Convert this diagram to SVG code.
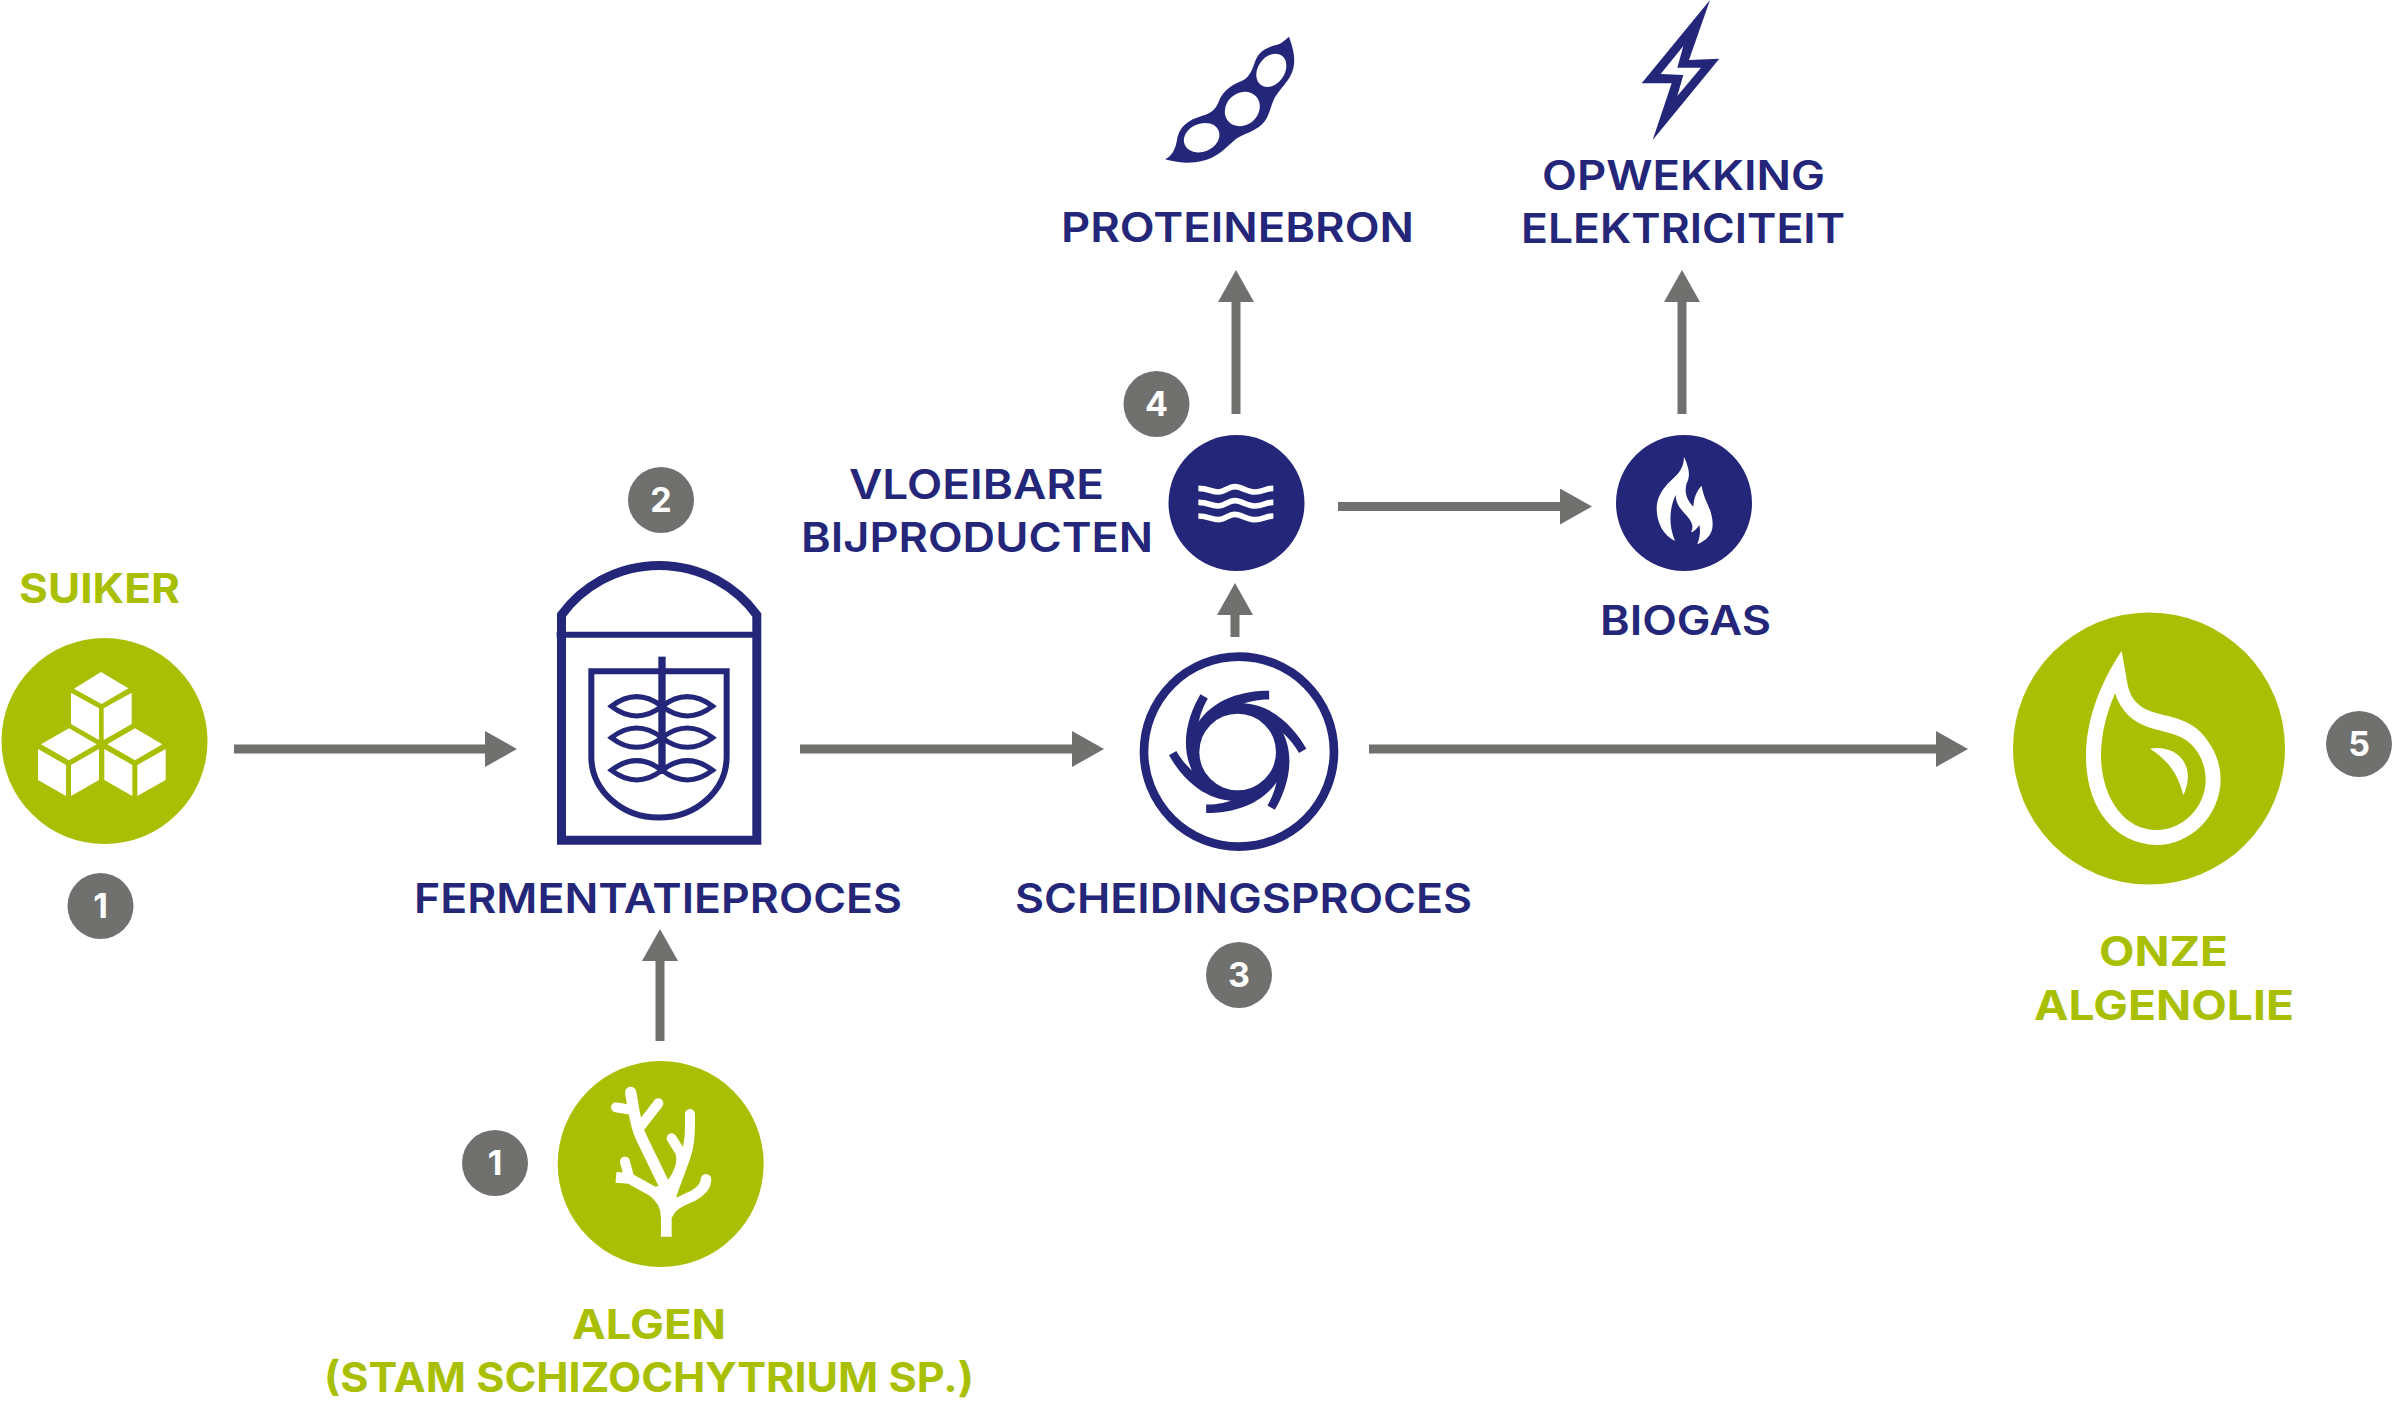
<svg xmlns="http://www.w3.org/2000/svg" width="2394" height="1404" viewBox="0 0 2394 1404">
<style>
.n{fill:#24267a}.g{fill:#a9bf03}.w{fill:#fff}.b{fill:#70706e}
.cl{stroke:#70706e;stroke-width:9;fill:none;marker-end:url(#ah)}
text{font-family:Inter,"Liberation Sans",sans-serif;font-size:41px;text-anchor:start}
.tn{fill:#24267a;font-weight:600}.tg{fill:#a9bf03;font-weight:700}
.bt{fill:#fff;font-weight:700;font-size:34px;text-anchor:middle}
.sn{fill:none;stroke:#24267a}
</style>
<defs>
<marker id="ah" markerUnits="userSpaceOnUse" markerWidth="32" markerHeight="36" refX="0" refY="18" orient="auto"><path d="M0 0L32 18L0 36Z" fill="#70706e"/></marker>
<path id="blade" class="n" d="M206 -10C172 -70 105 -147 5 -147C-30 -147 -70 -130 -90 -100L0 -115L100 -60L122 -68C145 -50 165 -30 184 3Z"/>
<path id="wave" d="M25 0C55 0 65 11 85 11C105 11 115 -5 135 -5C155 -5 170 11 195 11C220 11 225 0 250 0" fill="none" stroke="#fff" stroke-width="17"/>
</defs>
<g id="connectors">
<line class="cl" x1="234" y1="749" x2="485" y2="749"/>
<line class="cl" x1="800" y1="749" x2="1072" y2="749"/>
<line class="cl" x1="1369" y1="749" x2="1936" y2="749"/>
<line class="cl" x1="660" y1="1041" x2="660" y2="961"/>
<line class="cl" x1="1235" y1="637" x2="1235" y2="615"/>
<line class="cl" x1="1236" y1="414" x2="1236" y2="302"/>
<line class="cl" x1="1682" y1="414" x2="1682" y2="302"/>
<line class="cl" x1="1338" y1="506.5" x2="1560" y2="506.5"/>
</g>
<g id="suiker">
<circle class="g" cx="104.5" cy="741" r="103"/>
<path class="w" transform="translate(0 540) scale(.3333)" d="M303 396L385 445L305 492L222 446ZM213 458L297 505V600L213 552ZM311 505L395 458V552L311 600ZM207 565L290 613L207 661L123 613ZM114 627L198 675V768L114 720ZM213 675L297 627V720L213 768ZM405 565L487 613L405 661L322 613ZM313 627L397 675V768L313 720ZM412 675L497 627V720L412 768Z"/>
<text class="tg" x="19" y="603" textLength="161" lengthAdjust="spacingAndGlyphs">SUIKER</text>
</g>
<g id="badge-1a"><circle class="b" cx="100.500" cy="906" r="33"/><text class="bt" x="100.500" y="918">1</text></g>
<g id="fermentatie">
<g transform="translate(520 470) scale(.3333)">
<path class="sn" stroke-width="27" d="M124.5 435V1110.5H710.5V435A363 363 0 0 0 124.5 435Z"/>
<path class="sn" stroke-width="18" d="M110 494H700"/>
<path class="sn" stroke-width="18" d="M214 860V604H620V860A203 183 0 0 1 214 860Z"/>
<path class="sn" stroke-width="22" d="M426 560V905"/>
<path class="sn" stroke-width="15" d="M274 709Q350 651 426 709Q350 767 274 709ZM426 709Q502 651 578 709Q502 767 426 709ZM274 803Q350 745 426 803Q350 861 274 803ZM426 803Q502 745 578 803Q502 861 426 803ZM274 901Q350 843 426 901Q350 959 274 901ZM426 901Q502 843 578 901Q502 959 426 901Z"/>
</g>
<text class="tn" x="414" y="913" textLength="488" lengthAdjust="spacingAndGlyphs">FERMENTATIEPROCES</text>
</g>
<g id="badge-2"><circle class="b" cx="661" cy="500" r="33"/><text class="bt" x="661" y="512">2</text></g>
<g id="scheiding">
<g transform="translate(1110 630) scale(.3333)">
<circle class="sn" cx="387" cy="365" r="285" stroke-width="26"/>
<g transform="translate(383 366)">
<use href="#blade"/>
<use href="#blade" transform="rotate(-60)"/>
<use href="#blade" transform="rotate(-120)"/>
<use href="#blade" transform="rotate(180)"/>
<use href="#blade" transform="rotate(120)"/>
<use href="#blade" transform="rotate(60)"/>
<circle class="sn" r="127" stroke-width="24"/>
<circle class="w" r="115"/>
</g>
</g>
<text class="tn" x="1015" y="913" textLength="457" lengthAdjust="spacingAndGlyphs">SCHEIDINGSPROCES</text>
</g>
<g id="badge-3"><circle class="b" cx="1239" cy="975" r="33"/><text class="bt" x="1239" y="987">3</text></g>
<g id="vloeibare">
<circle class="n" cx="1236.500" cy="503" r="68"/>
<g transform="translate(1190 470) scale(.3333)">
<use href="#wave" y="55"/><use href="#wave" y="97"/><use href="#wave" y="138"/>
</g>
<text class="tn" x="849" y="499" textLength="255" lengthAdjust="spacingAndGlyphs">VLOEIBARE</text>
<text class="tn" x="801" y="552" textLength="352" lengthAdjust="spacingAndGlyphs">BIJPRODUCTEN</text>
</g>
<g id="badge-4"><circle class="b" cx="1156.500" cy="404" r="33"/><text class="bt" x="1156.500" y="416">4</text></g>
<g id="biogas">
<circle class="n" cx="1684" cy="503" r="68"/>
<path class="w" transform="translate(1640 445) scale(.3333)" d="M132 35C150 75 150 95 140 115C132 140 140 165 160 185C162 155 172 135 185 122C192 170 218 190 218 240C218 270 195 288 172 298C180 275 182 258 178 240C172 250 162 260 153 262C165 240 150 222 132 203C115 185 107 170 107 150C88 190 85 240 105 288C70 270 50 235 50 190C52 140 85 115 110 90C125 75 132 55 132 35Z"/>
<text class="tn" x="1600" y="635" textLength="171" lengthAdjust="spacingAndGlyphs">BIOGAS</text>
</g>
<g id="proteinebron">
<g transform="translate(1130 20) scale(.3333)">
<path class="n" d="M105 418C125 408 135 390 140 365C145 320 175 300 215 288C250 278 260 262 268 240C280 212 305 195 335 183C360 172 368 145 375 125C385 95 410 82 435 76C455 72 465 60 477 50C490 85 497 115 490 145C482 180 455 200 435 232C425 250 420 275 410 295C395 322 365 335 335 347C310 358 295 380 270 398C240 420 205 428 170 428C145 428 125 423 105 418Z"/>
<ellipse class="w" cx="215" cy="353" rx="55" ry="42" transform="rotate(-22 215 353)"/>
<ellipse class="w" cx="337" cy="267" rx="56" ry="48" transform="rotate(-42 337 267)"/>
<ellipse class="w" cx="424" cy="151" rx="54" ry="40" transform="rotate(-55 424 151)"/>
</g>
<text class="tn" x="1061" y="242" textLength="353" lengthAdjust="spacingAndGlyphs">PROTEINEBRON</text>
</g>
<g id="elektriciteit">
<path class="n" transform="translate(1620 0) scale(.3333)" d="M270 0L207 180L298 176L98 420L155 250L65 250Z"/>
<path class="w" transform="translate(1620 0) scale(.3333)" d="M190 138L172 203L243 203L172 288L190 225L122 222Z"/>
<text class="tn" x="1542" y="190" textLength="283" lengthAdjust="spacingAndGlyphs">OPWEKKING</text>
<text class="tn" x="1521" y="243" textLength="324" lengthAdjust="spacingAndGlyphs">ELEKTRICITEIT</text>
</g>
<g id="algenolie">
<circle class="g" cx="2149" cy="748.500" r="136"/>
<path class="w" transform="translate(2000 620) scale(.3333)" fill-rule="evenodd" d="M365 93L383 195C395 250 430 270 480 282C540 296 590 310 625 365C650 400 662 440 662 480C660 590 570 675 470 675C340 672 258 560 258 410C258 300 300 190 365 93ZM345 220C320 280 303 340 303 410C305 530 370 630 470 630C550 630 617 560 617 480C617 420 585 370 540 350C510 337 485 333 450 323C395 307 362 270 345 220ZM450 386C520 375 570 420 563 480C561 497 557 512 550 525C535 465 505 420 450 386Z"/>
<text class="tg" x="2099" y="966" textLength="129" lengthAdjust="spacingAndGlyphs">ONZE</text>
<text class="tg" x="2034" y="1020" textLength="260" lengthAdjust="spacingAndGlyphs">ALGENOLIE</text>
</g>
<g id="badge-5"><circle class="b" cx="2359" cy="744" r="33"/><text class="bt" x="2359" y="756">5</text></g>
<g id="algen">
<circle class="g" cx="660.700" cy="1164" r="103"/>
<g transform="translate(540 1050) scale(.3333)" fill="none" stroke="#fff" stroke-width="30" stroke-linecap="round" stroke-linejoin="round">
<path stroke-linecap="butt" stroke-width="32" d="M379 560V505C379 470 368 450 340 425L268 385L228 382"/>
<path d="M255 335L268 385"/>
<path stroke-width="34" d="M385 430L305 265C285 225 282 180 272 127"/>
<path d="M228 172L278 180M355 160L305 225"/>
<path d="M398 425L435 325C452 280 450 235 450 192"/>
<path d="M395 265L420 305C432 335 415 375 395 400"/>
<path stroke-width="32" d="M385 490C395 465 420 455 460 437C490 420 498 405 498 388"/>
<path class="w" stroke="none" d="M345 410L410 395L410 470L360 470Z"/>
</g>
<text class="tg" x="572" y="1339" textLength="154" lengthAdjust="spacingAndGlyphs">ALGEN</text>
<text class="tg" x="324" y="1392" textLength="650" lengthAdjust="spacingAndGlyphs">(STAM SCHIZOCHYTRIUM SP.)</text>
</g>
<g id="badge-1b"><circle class="b" cx="495" cy="1163" r="33"/><text class="bt" x="495" y="1175">1</text></g>
</svg>
